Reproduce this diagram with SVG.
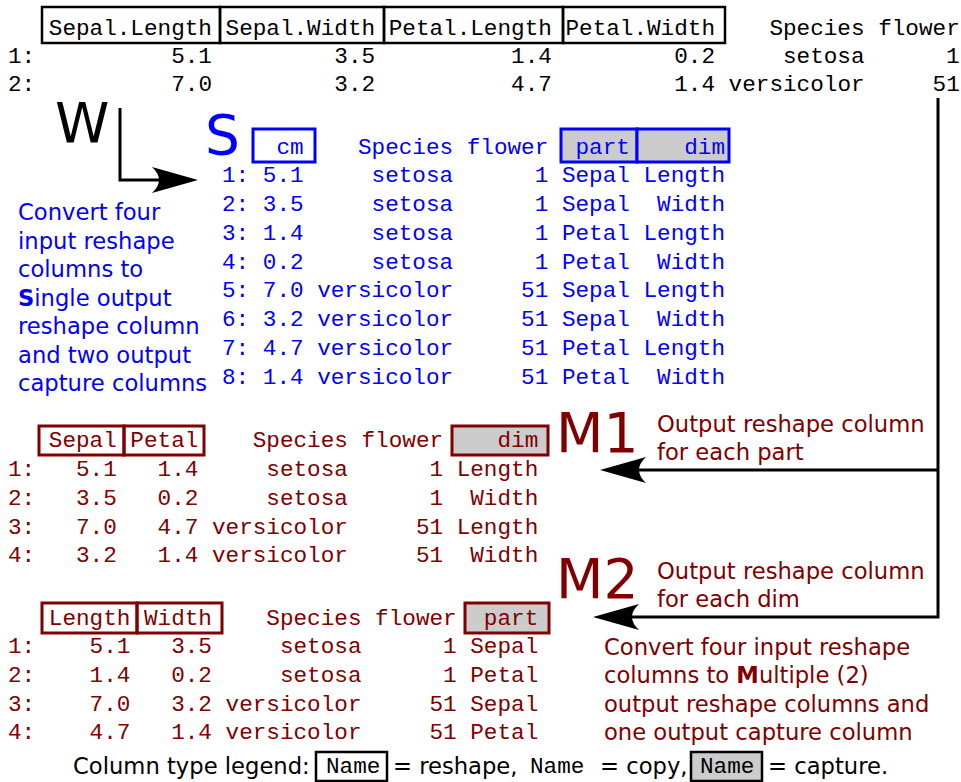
<svg xmlns="http://www.w3.org/2000/svg" width="961" height="782" viewBox="0 0 961 782">
<style>
.mono{font-family:"Liberation Mono","Courier New",monospace;font-size:22.67px;white-space:pre}
.sans{font-family:"DejaVu Sans","Liberation Sans",sans-serif;font-size:22.67px}
.big{font-family:"DejaVu Sans","Liberation Sans",sans-serif;font-size:55px}
.k{fill:#000}
.b{fill:#0000ff}
.r{fill:#800000}
.boxk{fill:none;stroke:#000;stroke-width:2.5}
.boxb{fill:none;stroke:#0000ff;stroke-width:3}
.boxr{fill:none;stroke:#800000;stroke-width:3}
.cap{fill:#cccccc}
.conn{fill:none;stroke:#000;stroke-width:3}
</style>
<defs>
<marker id="arrow" markerUnits="userSpaceOnUse" viewBox="-16 -15 50 30" refX="0" refY="0" markerWidth="50" markerHeight="30" orient="auto" overflow="visible">
<path d="M32,0 L-14,-13 Q0,0 -14,13 Z" fill="#000"/>
</marker>
</defs>

<g id="input-table">
<rect class="boxk" x="42" y="7" width="178" height="36"/>
<rect class="boxk" x="220" y="7" width="164" height="36"/>
<rect class="boxk" x="384" y="7" width="179" height="36"/>
<rect class="boxk" x="563" y="7" width="162" height="36"/>
<text class="mono k" x="48.8" y="35" xml:space="preserve">Sepal.Length Sepal.Width Petal.Length Petal.Width    Species flower</text>
<text class="mono k" x="8" y="63" xml:space="preserve">1:          5.1         3.5          1.4         0.2     setosa      1</text>
<text class="mono k" x="8" y="91">2:</text>
<text class="mono k" x="171.2" y="91" xml:space="preserve">7.0         3.2          4.7         1.4 versicolor     51</text>
</g>

<g id="W-label">
<text class="big k" x="55" y="142" font-size="53">W</text>
</g>

<g id="S-table">
<text class="big b" x="205" y="154">S</text>
<rect class="boxb" x="253" y="129" width="62" height="33"/>
<rect class="boxb cap" x="561" y="129" width="76" height="33"/>
<rect class="boxb cap" x="637" y="129" width="92" height="33"/>
<text class="mono b" x="276.4" y="154" xml:space="preserve">cm    Species flower  part    dim</text>
<text class="mono b" x="222" y="182" xml:space="preserve">1: 5.1     setosa      1 Sepal Length</text>
<text class="mono b" x="222" y="211" xml:space="preserve">2: 3.5     setosa      1 Sepal  Width</text>
<text class="mono b" x="222" y="240" xml:space="preserve">3: 1.4     setosa      1 Petal Length</text>
<text class="mono b" x="222" y="269" xml:space="preserve">4: 0.2     setosa      1 Petal  Width</text>
<text class="mono b" x="222" y="297" xml:space="preserve">5: 7.0 versicolor     51 Sepal Length</text>
<text class="mono b" x="222" y="326" xml:space="preserve">6: 3.2 versicolor     51 Sepal  Width</text>
<text class="mono b" x="222" y="355" xml:space="preserve">7: 4.7 versicolor     51 Petal Length</text>
<text class="mono b" x="222" y="384" xml:space="preserve">8: 1.4 versicolor     51 Petal  Width</text>
</g>

<g id="S-description">
<text class="sans b" x="18" y="220">Convert four</text>
<text class="sans b" x="18" y="248.5">input reshape</text>
<text class="sans b" x="18" y="277">columns to</text>
<text class="sans b" x="18" y="305.5"><tspan font-weight="bold">S</tspan>ingle output</text>
<text class="sans b" x="18" y="334">reshape column</text>
<text class="sans b" x="18" y="362.5">and two output</text>
<text class="sans b" x="18" y="391">capture columns</text>
</g>

<g id="M1-table">
<rect class="boxr" x="39" y="426" width="85" height="29"/>
<rect class="boxr" x="124" y="426" width="80" height="29"/>
<rect class="boxr cap" x="452" y="426" width="96" height="29"/>
<text class="mono r" x="48.8" y="447" xml:space="preserve">Sepal Petal    Species flower    dim</text>
<text class="mono r" x="8" y="476" xml:space="preserve">1:   5.1   1.4     setosa      1 Length</text>
<text class="mono r" x="8" y="505" xml:space="preserve">2:   3.5   0.2     setosa      1  Width</text>
<text class="mono r" x="8" y="534" xml:space="preserve">3:   7.0   4.7 versicolor     51 Length</text>
<text class="mono r" x="8" y="562" xml:space="preserve">4:   3.2   1.4 versicolor     51  Width</text>
</g>

<g id="M1-label">
<text class="big r" x="556" y="452">M1</text>
<text class="sans r" x="657" y="432">Output reshape column</text>
<text class="sans r" x="657" y="460">for each part</text>
</g>

<g id="M2-table">
<rect class="boxr" x="42" y="603" width="95" height="30"/>
<rect class="boxr" x="137" y="603" width="85" height="30"/>
<rect class="boxr cap" x="465" y="603" width="84" height="30"/>
<text class="mono r" x="48.8" y="625" xml:space="preserve">Length Width    Species flower  part</text>
<text class="mono r" x="8" y="653" xml:space="preserve">1:    5.1   3.5     setosa      1 Sepal</text>
<text class="mono r" x="8" y="682" xml:space="preserve">2:    1.4   0.2     setosa      1 Petal</text>
<text class="mono r" x="8" y="711" xml:space="preserve">3:    7.0   3.2 versicolor     51 Sepal</text>
<text class="mono r" x="8" y="739" xml:space="preserve">4:    4.7   1.4 versicolor     51 Petal</text>
</g>

<g id="M2-label">
<text class="big r" x="556" y="598">M2</text>
<text class="sans r" x="657" y="579">Output reshape column</text>
<text class="sans r" x="657" y="607">for each dim</text>
<text class="sans r" x="604" y="655">Convert four input reshape</text>
<text class="sans r" x="604" y="683">columns to <tspan font-weight="bold">M</tspan>ultiple (2)</text>
<text class="sans r" x="604" y="712">output reshape columns and</text>
<text class="sans r" x="604" y="740">one output capture column</text>
</g>

<g id="legend">
<text class="sans k" x="73" y="774">Column type legend:</text>
<rect class="boxk" x="316" y="752" width="71" height="29" stroke-width="2"/>
<text class="mono k" x="326" y="773">Name</text>
<text class="sans k" x="393" y="774">= reshape,</text>
<text class="mono k" x="530" y="773">Name</text>
<text class="sans k" x="600" y="774">= copy,</text>
<rect class="boxk cap" x="691" y="752" width="71" height="29" stroke-width="2"/>
<text class="mono k" x="700" y="773">Name</text>
<text class="sans k" x="768" y="774">= capture.</text>
</g>

<g id="connectors">
<path class="conn" d="M120,108 V180 H166" marker-end="url(#arrow)"/>
<path class="conn" d="M938,98 V617 H625" marker-end="url(#arrow)"/>
<path class="conn" d="M938,470 H632" marker-end="url(#arrow)"/>
</g>
</svg>
